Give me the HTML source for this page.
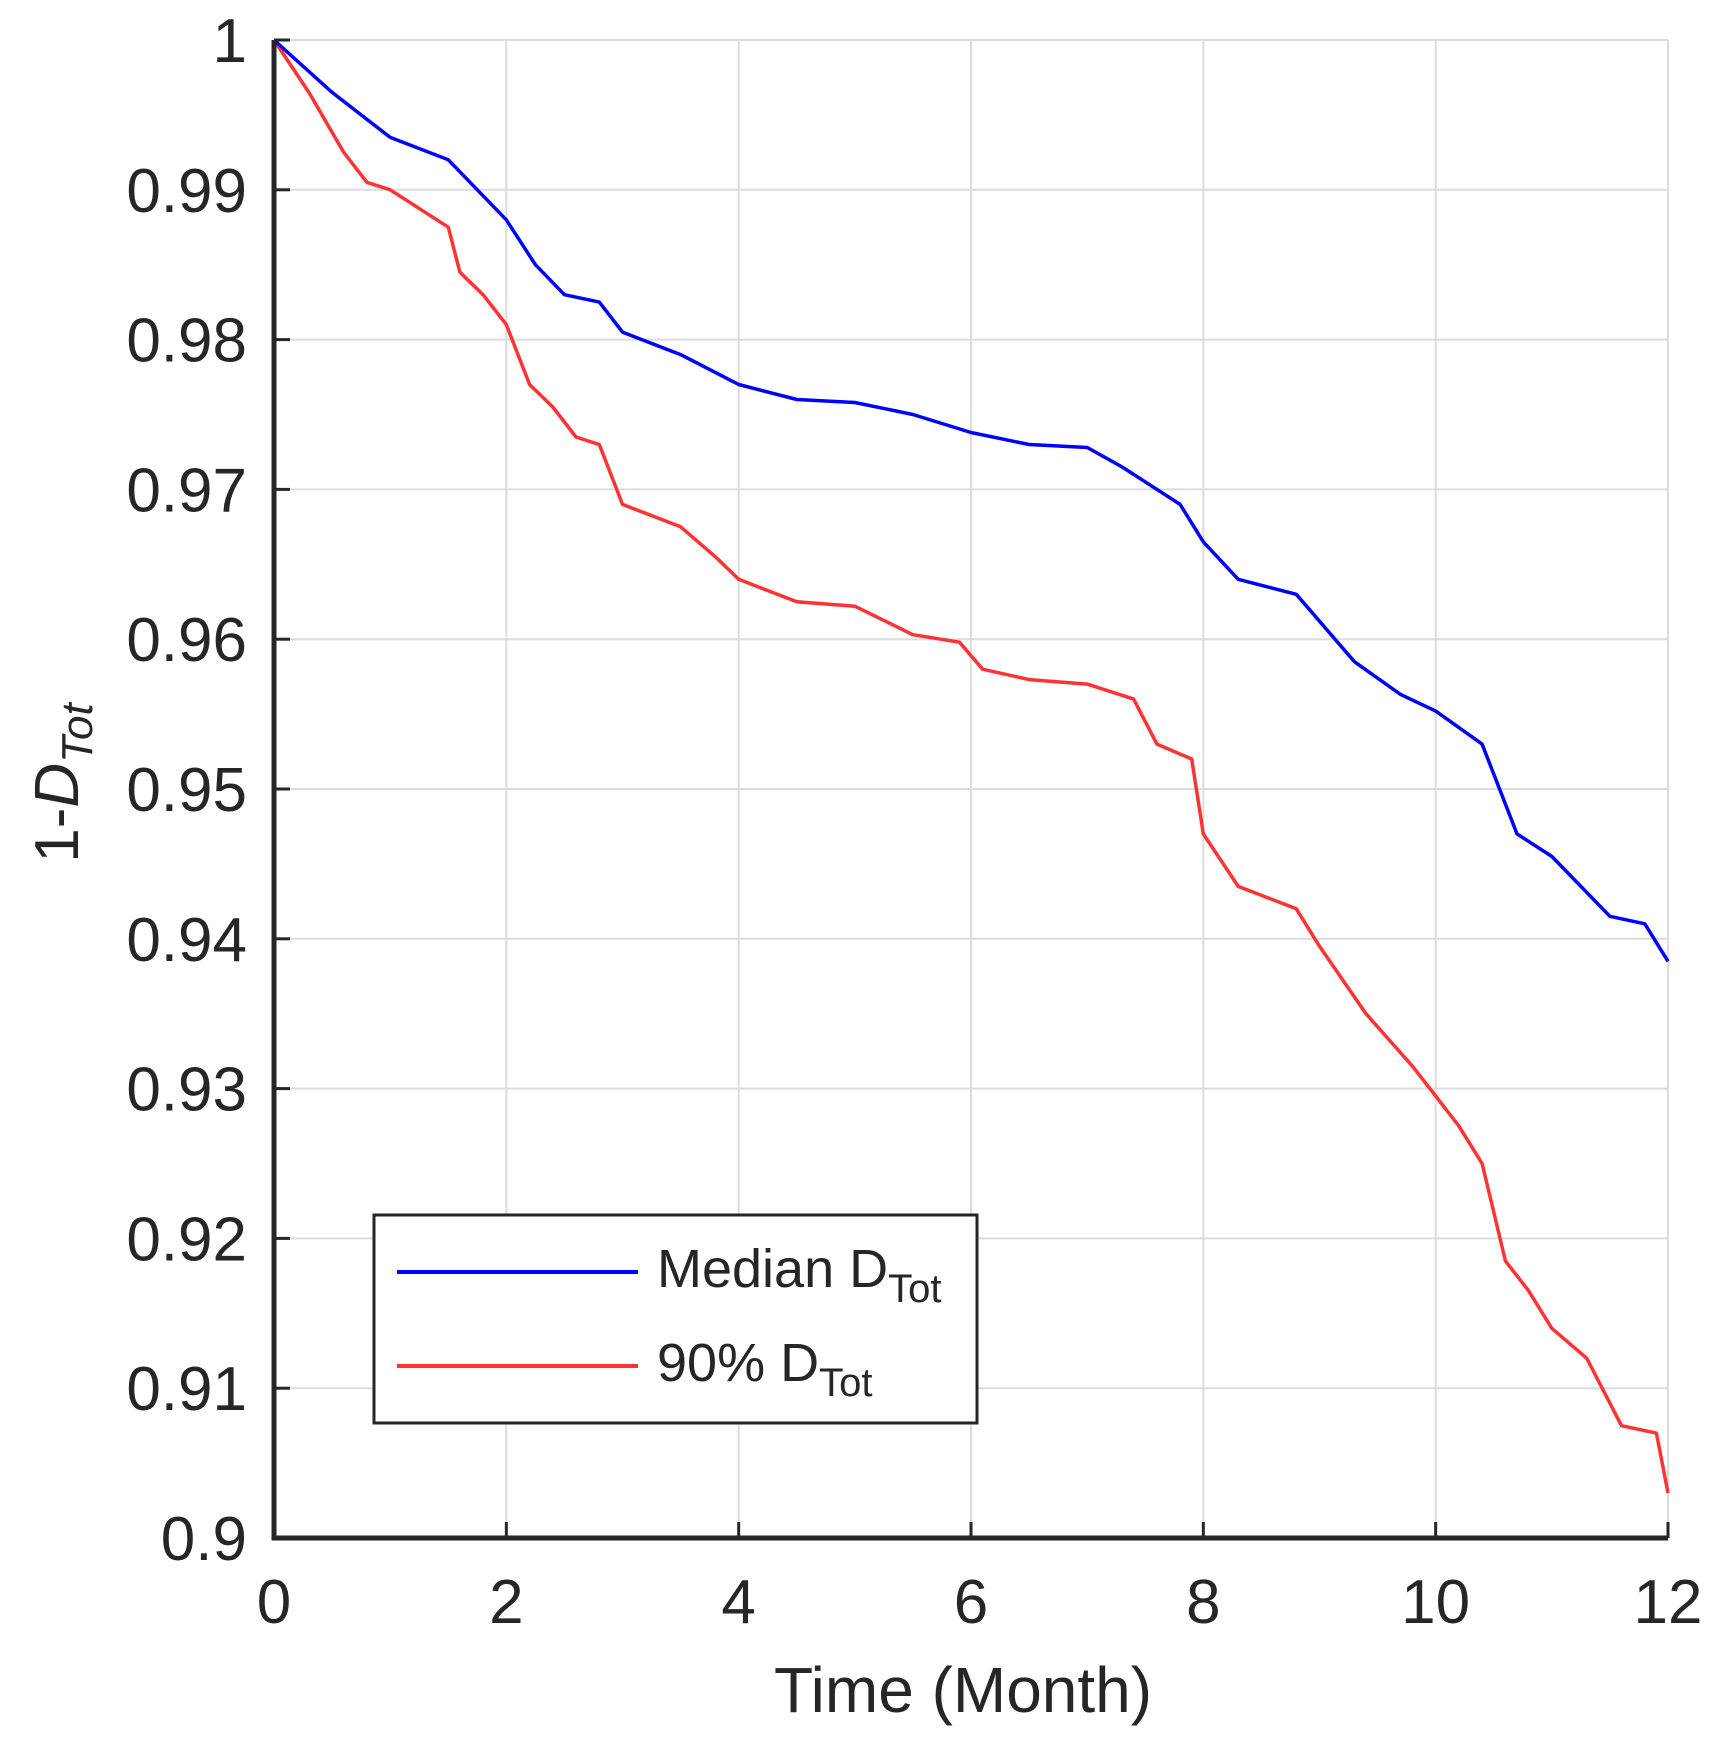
<!DOCTYPE html>
<html><head><meta charset="utf-8"><style>
body{margin:0;background:#fff}
svg text{font-family:"Liberation Sans",Arial,sans-serif;fill:#262626}
</style></head><body>
<svg id="c" width="1721" height="1743" viewBox="0 0 1721 1743" xmlns="http://www.w3.org/2000/svg">
<g id="grid"></g>
<g id="series"></g>
<g id="axes"></g>
<text x="963" y="1712" font-size="64" text-anchor="middle">Time (Month)</text>
<text transform="translate(78,783) rotate(-90)" font-size="62" text-anchor="middle">1-<tspan font-style="italic">D</tspan><tspan font-style="italic" font-size="44" dy="14">Tot</tspan></text>
<g>
<rect x="374" y="1215" width="603" height="208" fill="#fff" stroke="#262626" stroke-width="3"/>
<line x1="397" y1="1272" x2="638" y2="1272" stroke="#0000ff" stroke-width="4"/>
<text x="657" y="1287" font-size="54">Median D<tspan font-size="40" dy="15">Tot</tspan></text>
<line x1="397" y1="1366" x2="638" y2="1366" stroke="#ff3333" stroke-width="4"/>
<text x="657" y="1381" font-size="54">90% D<tspan font-size="40" dy="15">Tot</tspan></text>
</g>
</svg>
<script>
const xTicks=[0,2,4,6,8,10,12];
const yTicks=[0.9,0.91,0.92,0.93,0.94,0.95,0.96,0.97,0.98,0.99,1];
const yTickLabels=["0.9","0.91","0.92","0.93","0.94","0.95","0.96","0.97","0.98","0.99","1"];
const medianX=[0,0.5,1,1.5,1.75,2,2.25,2.5,2.8,3,3.5,4,4.5,5,5.5,6,6.5,7,7.3,7.8,8,8.3,8.8,9.3,9.7,10,10.4,10.7,11,11.5,11.8,12];
const medianY=[1,0.9965,0.9935,0.992,0.990,0.988,0.985,0.983,0.9825,0.9805,0.979,0.977,0.976,0.9758,0.975,0.9738,0.973,0.9728,0.9715,0.969,0.9665,0.964,0.963,0.9585,0.9563,0.9552,0.953,0.947,0.9455,0.9415,0.941,0.9385];
const p90X=[0,0.3,0.6,0.8,1,1.5,1.6,1.8,2,2.2,2.4,2.6,2.8,3,3.5,3.8,4,4.5,5,5.5,5.9,6.1,6.5,7,7.4,7.6,7.9,8,8.3,8.8,9,9.4,9.8,10,10.2,10.4,10.6,10.8,11,11.3,11.6,11.9,12];
const p90Y=[1,0.9965,0.9925,0.9905,0.990,0.9875,0.9845,0.983,0.981,0.977,0.9755,0.9735,0.973,0.969,0.9675,0.9655,0.964,0.9625,0.9622,0.9603,0.9598,0.958,0.9573,0.957,0.956,0.953,0.952,0.947,0.9435,0.942,0.9395,0.935,0.9315,0.9295,0.9275,0.925,0.9185,0.9165,0.914,0.912,0.9075,0.907,0.903];
const L=274,R=1668,T=40,B=1538;
const sx=v=>L+(v-0)/12*(R-L);
const sy=v=>B-(v-0.9)/0.1*(B-T);
const NS="http://www.w3.org/2000/svg";
function mk(tag,at,parent){const e=document.createElementNS(NS,tag);for(const k in at)e.setAttribute(k,at[k]);parent.appendChild(e);return e;}
const grid=document.getElementById('grid'),axes=document.getElementById('axes'),series=document.getElementById('series');
xTicks.forEach(t=>{
 const g=mk('line',{x1:sx(t),x2:sx(t),y1:T,y2:B,stroke:'#dcdcdc','stroke-width':2},grid);
 
 
 const k=mk('line',{x1:sx(t),x2:sx(t),y1:B,y2:B-16,stroke:'#262626','stroke-width':3},axes);
 
 
 const tx=mk('text',{x:sx(t),y:1623,'font-size':62,'text-anchor':'middle'},axes);
 tx.textContent=t;
 
 
});
yTicks.forEach((t,i)=>{
 const g=mk('line',{x1:L,x2:R,y1:sy(t),y2:sy(t),stroke:'#dcdcdc','stroke-width':2},grid);
 
 
 const k=mk('line',{x1:L,x2:L+16,y1:sy(t),y2:sy(t),stroke:'#262626','stroke-width':3},axes);
 
 
 const tx=mk('text',{x:247,y:sy(t)+22,'font-size':62,'text-anchor':'end'},axes);
 tx.textContent=yTickLabels[i];
 
 
});
const ax=mk('path',{d:`M${L},${T} L${L},${B} L${R},${B}`,fill:'none',stroke:'#262626','stroke-width':5},axes);


function line(xs,ys,color,name){
 const pts=xs.map((x,i)=>sx(x).toFixed(1)+','+sy(ys[i]).toFixed(1)).join(' ');
 const p=mk('polyline',{points:pts,fill:'none',stroke:color,'stroke-width':3.5,'stroke-linejoin':'round'},series);
 
 
}
line(p90X,p90Y,'#ff3333','series-90-percent');
line(medianX,medianY,'#0000ff','series-median');
</script>
</body></html>
